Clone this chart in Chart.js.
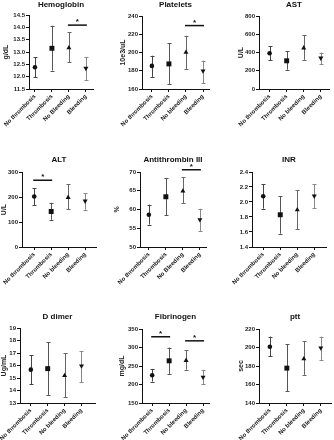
<!DOCTYPE html>
<html>
<head>
<meta charset="utf-8">
<script src="https://cdn.jsdelivr.net/npm/chart.js@4.4.1/dist/chart.umd.min.js"></script>
<style>
  html, body { margin: 0; padding: 0; background: #fff; }
  body { position: relative; width: 334px; height: 440px; overflow: hidden; }
  canvas { position: absolute; }
</style>
</head>
<body>
<script>
// groups on the x axis
const categories = ["No thrombosis", "Thrombosis", "No bleeding", "Bleeding"];
const categoriesCap = ["No thrombosis", "Thrombosis", "No Bleeding", "Bleeding"];

// mean, lower / upper end of the error bar, significance [from, to, level]
const hemoglobinMean = [12.38, 13.15, 13.17, 12.34];
const hemoglobinLow = [11.98, 12.25, 12.58, 11.85];
const hemoglobinHigh = [12.78, 14.07, 13.81, 12.78];
const hemoglobinSig = [[2, 3, 14.09]];
const hemoglobinAxis = [11.5, 14.5, 0.5];

const plateletsMean = [185.3, 187.5, 200.1, 179.9];
const plateletsLow = [173.3, 165.7, 182.0, 166.4];
const plateletsHigh = [196.5, 210.0, 218.3, 191.1];
const plateletsSig = [[2, 3, 229.5]];
const plateletsAxis = [160, 240, 20];

const astMean = [392, 309, 450, 340];
const astLow = [318, 211, 320, 270];
const astHigh = [470, 411, 590, 400];
const astSig = [];
const astAxis = [0, 800, 200];

const altMean = [202, 142, 198, 184];
const altLow = [167, 109, 151, 149];
const altHigh = [236, 177, 250, 216];
const altSig = [[0, 1, 267]];
const altAxis = [0, 300, 100];

const at3Mean = [58.6, 63.4, 64.9, 57.3];
const at3Low = [56.0, 58.5, 61.6, 54.3];
const at3High = [61.3, 68.3, 68.6, 60.2];
const at3Sig = [[2, 3, 70.6]];
const at3Axis = [50, 70, 5];

const inrMean = [2.076, 1.83, 1.895, 2.08];
const inrLow = [1.911, 1.578, 1.636, 1.92];
const inrHigh = [2.236, 2.076, 2.156, 2.236];
const inrSig = [];
const inrAxis = [1.4, 2.4, 0.2];

const ddimerMean = [15.67, 15.75, 15.19, 15.97];
const ddimerLow = [14.52, 13.65, 13.48, 14.68];
const ddimerHigh = [16.80, 17.85, 16.96, 17.13];
const ddimerSig = [];
const ddimerAxis = [13, 19, 1];

const fibrinogenMean = [225, 264, 265, 220];
const fibrinogenLow = [208, 229, 240, 201];
const fibrinogenHigh = [242, 300, 293, 238];
const fibrinogenSig = [[0, 1, 329], [2, 3, 318]];
const fibrinogenAxis = [150, 350, 50];

const pttMean = [200.8, 177.7, 187.7, 199.5];
const pttLow = [190.3, 152.6, 170.5, 186.7];
const pttHigh = [211.8, 203.3, 207.1, 211.8];
const pttSig = [];
const pttAxis = [140, 220, 20];

const FONT = "'Liberation Sans', Arial, sans-serif";
const markerStyles = ["circle", "rect", "triangle", "triangle"];
const markerRotation = [0, 0, 0, 180];
const markerRadius = [2.3, 3.5, 2.9, 2.9];
const barColors = ["#444", "#555", "#666", "#888"];

// chart area of each panel in page pixels
const panels = [
    { title: "Hemoglobin", unit: "g/dL", labels: categoriesCap, mean: hemoglobinMean, low: hemoglobinLow, high: hemoglobinHigh, sig: hemoglobinSig, axis: hemoglobinAxis, dec: 1,
      box: { cl: 29, cr: 94, ct: 15, cb: 89, tY: 5, yTX: 6, xMin: -0.35, xMax: 3.42 } },
    { title: "Platelets", unit: "10e3/uL", labels: categories, mean: plateletsMean, low: plateletsLow, high: plateletsHigh, sig: plateletsSig, axis: plateletsAxis, dec: 0,
      box: { cl: 142, cr: 210, ct: 16, cb: 89, tY: 5, yTX: 123, xMin: -0.58, xMax: 3.35 } },
    { title: "AST", unit: "U/L", labels: categories, mean: astMean, low: astLow, high: astHigh, sig: astSig, axis: astAxis, dec: 0,
      box: { cl: 259, cr: 330, ct: 16, cb: 89, tY: 5, yTX: 241, xMin: -0.62, xMax: 3.48 } },
    { title: "ALT", unit: "U/L", labels: categories, mean: altMean, low: altLow, high: altHigh, sig: altSig, axis: altAxis, dec: 0,
      box: { cl: 22, cr: 97, ct: 172, cb: 247, tY: 160, yTX: 4, xMin: -0.72, xMax: 3.64 } },
    { title: "Antithrombin III", unit: "%", labels: categoriesCap, mean: at3Mean, low: at3Low, high: at3High, sig: at3Sig, axis: at3Axis, dec: 0,
      box: { cl: 140, cr: 207, ct: 172, cb: 247, tY: 160, yTX: 117, xMin: -0.52, xMax: 3.36 } },
    { title: "INR", unit: "", labels: categories, mean: inrMean, low: inrLow, high: inrHigh, sig: inrSig, axis: inrAxis, dec: 1,
      box: { cl: 252, cr: 327, ct: 172, cb: 247, tY: 160, yTX: 228, xMin: -0.66, xMax: 3.69 } },
    { title: "D dimer", unit: "Ug/mL", labels: categories, mean: ddimerMean, low: ddimerLow, high: ddimerHigh, sig: ddimerSig, axis: ddimerAxis, dec: 0,
      box: { cl: 20, cr: 96, ct: 328, cb: 403, tY: 317, yTX: 4, xMin: -0.64, xMax: 3.8 } },
    { title: "Fibrinogen", unit: "mg/dL", labels: categories, mean: fibrinogenMean, low: fibrinogenLow, high: fibrinogenHigh, sig: fibrinogenSig, axis: fibrinogenAxis, dec: 0,
      box: { cl: 142, cr: 210, ct: 329, cb: 403, tY: 317, yTX: 122, xMin: -0.6, xMax: 3.35 } },
    { title: "ptt", unit: "sec", labels: categories, mean: pttMean, low: pttLow, high: pttHigh, sig: pttSig, axis: pttAxis, dec: 0,
      box: { cl: 259, cr: 332, ct: 329, cb: 403, tY: 317, yTX: 241, xMin: -0.64, xMax: 3.6 } },
];

// vertical error bars with caps, under the markers
const errorBars = {
    id: "errorBars",
    beforeDatasetsDraw(chart, args, opts) {
        const { ctx, scales: { x, y } } = chart;
        ctx.save();
        ctx.lineWidth = 1;
        opts.low.forEach((lo, i) => {
            const px = Math.round(x.getPixelForValue(i)) + 0.5;
            const y1 = y.getPixelForValue(lo);
            const y2 = y.getPixelForValue(opts.high[i]);
            ctx.strokeStyle = barColors[i];
            ctx.beginPath();
            ctx.moveTo(px, y1);
            ctx.lineTo(px, y2);
            ctx.moveTo(px - 2, Math.round(y1) + 0.5);
            ctx.lineTo(px + 2, Math.round(y1) + 0.5);
            ctx.moveTo(px - 2, Math.round(y2) + 0.5);
            ctx.lineTo(px + 2, Math.round(y2) + 0.5);
            ctx.stroke();
        });
        ctx.restore();
    },
};

// significance line with a star
const sigBars = {
    id: "sigBars",
    afterDraw(chart, args, opts) {
        const { ctx, scales: { x, y } } = chart;
        ctx.save();
        ctx.strokeStyle = "#111";
        ctx.fillStyle = "#111";
        ctx.lineWidth = 1.5;
        ctx.font = "bold 8px " + FONT;
        ctx.textAlign = "center";
        ctx.textBaseline = "alphabetic";
        opts.pairs.forEach(([a, b, level]) => {
            const x1 = x.getPixelForValue(a) - 1;
            const x2 = x.getPixelForValue(b) + 1;
            const py = y.getPixelForValue(level);
            ctx.beginPath();
            ctx.moveTo(x1, py);
            ctx.lineTo(x2, py);
            ctx.stroke();
            ctx.fillText("*", (x1 + x2) / 2, py - 1);
        });
        ctx.restore();
    },
};

function drawPanel(p) {
    const b = p.box;
    const left = Math.max(0, Math.round(b.yTX - 4));
    const top = Math.round(b.tY - 5);
    const width = Math.round(b.cr - left + 3);
    const height = Math.round(b.cb - top + 56);
    const yWidth = b.cl - left;
    const titleGap = b.ct - top - 9.6;

    const canvas = document.createElement("canvas");
    canvas.width = width;
    canvas.height = height;
    canvas.style.left = left + "px";
    canvas.style.top = top + "px";
    document.body.appendChild(canvas);

    const tickFont = { family: FONT, size: 6, weight: "bold" };

    new Chart(canvas, {
        type: "scatter",
        data: {
            datasets: [
                {
                    data: p.mean.map((m, i) => ({ x: i, y: m })),
                    pointStyle: markerStyles,
                    pointRotation: markerRotation,
                    pointRadius: markerRadius,
                    backgroundColor: "#111",
                    borderColor: "#111",
                    borderWidth: 0,
                },
            ],
        },
        options: {
            responsive: false,
            animation: false,
            devicePixelRatio: 1,
            layout: { padding: { left: 0, right: 3, top: 0, bottom: 0 } },
            plugins: {
                legend: { display: false },
                tooltip: { enabled: false },
                title: {
                    display: true,
                    text: p.title,
                    fullSize: false,
                    color: "#111",
                    font: { family: FONT, size: 8, weight: "bold", lineHeight: 1.2 },
                    padding: { top: 0, bottom: titleGap },
                },
                errorBars: { low: p.low, high: p.high },
                sigBars: { pairs: p.sig },
            },
            scales: {
                x: {
                    type: "linear",
                    min: b.xMin,
                    max: b.xMax,
                    afterBuildTicks: (s) => {
                        s.ticks = p.labels.map((_, i) => ({ value: i }));
                    },
                    afterFit: (s) => {
                        s.height = 56;
                        s.paddingLeft = 0;
                        s.paddingRight = 0;
                    },
                    border: { color: "#111", width: 1 },
                    grid: { drawOnChartArea: false, color: "#111", tickLength: 3 },
                    ticks: {
                        autoSkip: false,
                        minRotation: 45,
                        maxRotation: 45,
                        padding: 1,
                        color: "#222",
                        font: tickFont,
                        callback: (v) => p.labels[v],
                    },
                },
                y: {
                    min: p.axis[0],
                    max: p.axis[1],
                    afterFit: (s) => {
                        s.width = yWidth;
                        s.paddingTop = 0;
                        s.paddingBottom = 0;
                    },
                    border: { color: "#111", width: 1 },
                    grid: { drawOnChartArea: false, color: "#111", tickLength: 3 },
                    ticks: {
                        stepSize: p.axis[2],
                        padding: 1,
                        color: "#222",
                        font: tickFont,
                        callback: (v) => v.toFixed(p.dec),
                    },
                    title: {
                        display: p.unit !== "",
                        text: p.unit,
                        color: "#222",
                        padding: 0,
                        font: { family: FONT, size: 7, weight: "bold", lineHeight: 1.2 },
                    },
                },
            },
        },
        plugins: [errorBars, sigBars],
    });
}

panels.forEach(drawPanel);
</script>
</body>
</html>
